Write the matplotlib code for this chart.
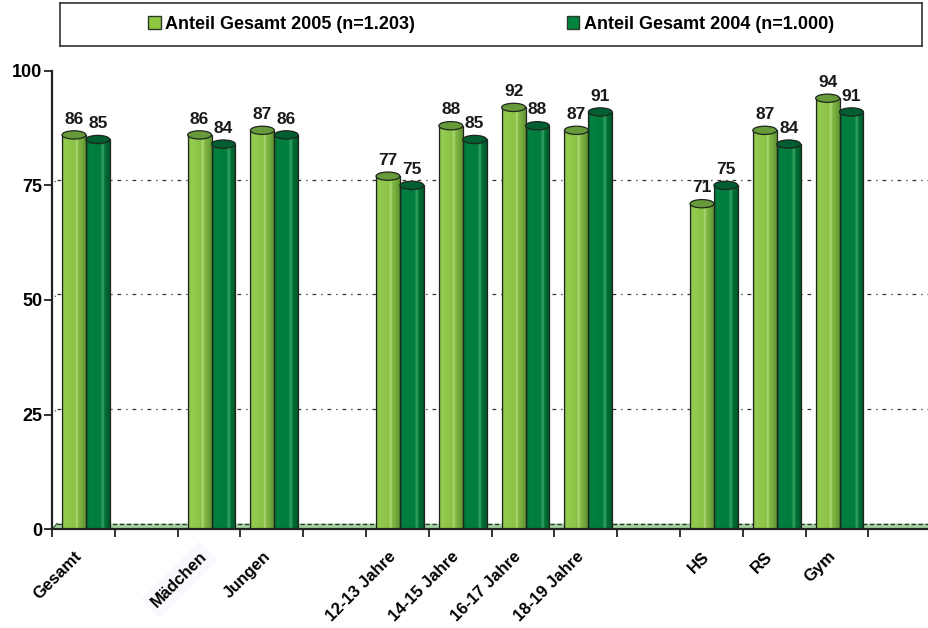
import numpy as np
import matplotlib.pyplot as plt
from matplotlib.patches import Ellipse, Patch, Polygon
from matplotlib.colors import to_rgb

plt.rcParams['font.family'] = ['Liberation Sans', 'DejaVu Sans']
plt.rcParams['font.weight'] = 'bold'

# Category slots (empty strings are spacer slots between groups)
categories = ['Gesamt', '', 'Mädchen', 'Jungen', '', '12-13 Jahre', '14-15 Jahre',
              '16-17 Jahre', '18-19 Jahre', '', 'HS', 'RS', 'Gym', '']
share_2005 = [86, None, 86, 87, None, 77, 88, 92, 87, None, 71, 87, 94, None]
share_2004 = [85, None, 84, 86, None, 75, 85, 88, 91, None, 75, 84, 91, None]
series_labels = ['Anteil Gesamt 2005 (n=1.203)', 'Anteil Gesamt 2004 (n=1.000)']
y_ticks = [0, 25, 50, 75, 100]

W, H = 929, 628
fig = plt.figure(figsize=(W / 100, H / 100), dpi=100)
ax = fig.add_axes([52 / W, (H - 529.3) / H, (W - 52) / W, 458.6 / H])

slot_px = 62.8
xmax = -0.5 + (W - 52) / slot_px
ax.set_xlim(-0.5, xmax)
ax.set_ylim(0, 100)

ink = '#1e261e'
bw = 0.38
shift = 0.04
dep_x, dep_y = 0.08, 1.25   # depth of the pseudo-3D back wall

light = {'stops': [0, 0.12, 0.55, 0.62, 0.68, 0.85, 1.0],
         'cols': ['#7db542', '#95cb4f', '#8ac246', '#b4dc7d', '#84bb44', '#72a83c', '#5e9232'],
         'cap': '#679a3a'}
dark = {'stops': [0, 0.15, 0.6, 0.72, 0.78, 0.9, 1.0],
        'cols': ['#006b34', '#008040', '#007c3d', '#3aa566', '#007538', '#006430', '#00552a'],
        'cap': '#005e30'}


def gradient(style):
    t = np.linspace(0, 1, 96)
    rgb = np.array([to_rgb(c) for c in style['cols']])
    g = np.stack([np.interp(t, style['stops'], rgb[:, k]) for k in range(3)], axis=-1)
    return g[np.newaxis, :, :]


def cylinder(xc, v, style):
    bar = ax.bar(xc, v, width=bw, color='none', edgecolor=ink, lw=0.9, zorder=4)[0]
    im = ax.imshow(gradient(style), extent=[xc - bw / 2, xc + bw / 2, 0, v],
                   aspect='auto', interpolation='bilinear', zorder=3)
    im.set_clip_path(bar)
    ax.add_patch(Ellipse((xc, v), bw, 1.8, facecolor=style['cap'], edgecolor=ink,
                         lw=0.9, zorder=5))
    ax.annotate(f'{v}', (xc, v), xytext=(0, 6), textcoords='offset points',
                ha='center', va='bottom', fontsize=12.5, fontweight='bold', color='#1a1a1a',
                zorder=6)


# floor strip and back-wall grid
floor = Polygon([(-0.5, 0), (-0.5 + dep_x, dep_y), (xmax, dep_y), (xmax, 0)],
                closed=True, facecolor='#a7d3a3', edgecolor='none', zorder=1)
ax.add_patch(floor)
ax.plot([-0.5 + dep_x, xmax], [dep_y, dep_y], color='#2a3a2a', lw=1.0,
        ls=(0, (3, 2)), zorder=1.5)
ax.plot([-0.5, -0.5 + dep_x], [0, dep_y], color='#2a3a2a', lw=0.8, zorder=1.5)
for v in y_ticks[1:]:
    ax.plot([-0.5 + dep_x, xmax], [v + dep_y, v + dep_y], color='#333333', lw=0.9,
            ls=(0, (3, 4, 1, 4)), zorder=1)
    ax.plot([-0.5, -0.5 + dep_x], [v, v + dep_y], color='#333333', lw=0.8,
            ls=(0, (1, 3)), zorder=1)

x = np.arange(len(categories))
for i in x:
    if share_2005[i] is not None:
        cylinder(i - bw / 2 + shift, share_2005[i], light)
    if share_2004[i] is not None:
        cylinder(i + bw / 2 + shift, share_2004[i], dark)

ax.set_xlim(-0.5, xmax)
ax.set_ylim(0, 100)

for s in ['top', 'right']:
    ax.spines[s].set_visible(False)
for s in ['left', 'bottom']:
    ax.spines[s].set_color('#222222')
    ax.spines[s].set_linewidth(1.6)
    ax.spines[s].set_zorder(7)

ax.set_yticks(y_ticks)
ax.set_yticklabels([str(t) for t in y_ticks], fontsize=13, fontweight='bold')
ax.tick_params(axis='y', direction='out', length=6, width=1.3, color='#222222', pad=1)

ax.set_xticks(np.arange(-0.5, xmax, 1.0))
ax.set_xticklabels([])
ax.tick_params(axis='x', which='major', direction='out', length=6, width=1.3,
               color='#222222')
ax.set_xticks(x - 0.15, minor=True)
ax.set_xticklabels(categories, minor=True, rotation=45, ha='right',
                   rotation_mode='anchor', fontsize=12, fontweight='bold')
ax.tick_params(axis='x', which='minor', length=0, pad=14)
for lbl in ax.get_xticklabels(minor=True):
    if lbl.get_text() == 'Mädchen':
        lbl.set_bbox(dict(facecolor='#f7f9fc', edgecolor='none', pad=4))

# legend box across the top
lax = fig.add_axes([60 / W, (H - 46) / H, 862 / W, 43 / H])
lax.set_xticks([])
lax.set_yticks([])
for s in lax.spines.values():
    s.set_color('#333333')
    s.set_linewidth(1.2)
handles = [Patch(facecolor='#8dc63f', edgecolor='#2a3a2a'),
           Patch(facecolor='#00843d', edgecolor='#2a3a2a')]
lax.legend(handles, series_labels, loc='center', ncol=2, frameon=False,
           prop={'size': 13, 'weight': 'bold'}, columnspacing=8.4,
           handlelength=0.7, handleheight=0.7, handletextpad=0.25)

fig.savefig('out.png', dpi=100)
